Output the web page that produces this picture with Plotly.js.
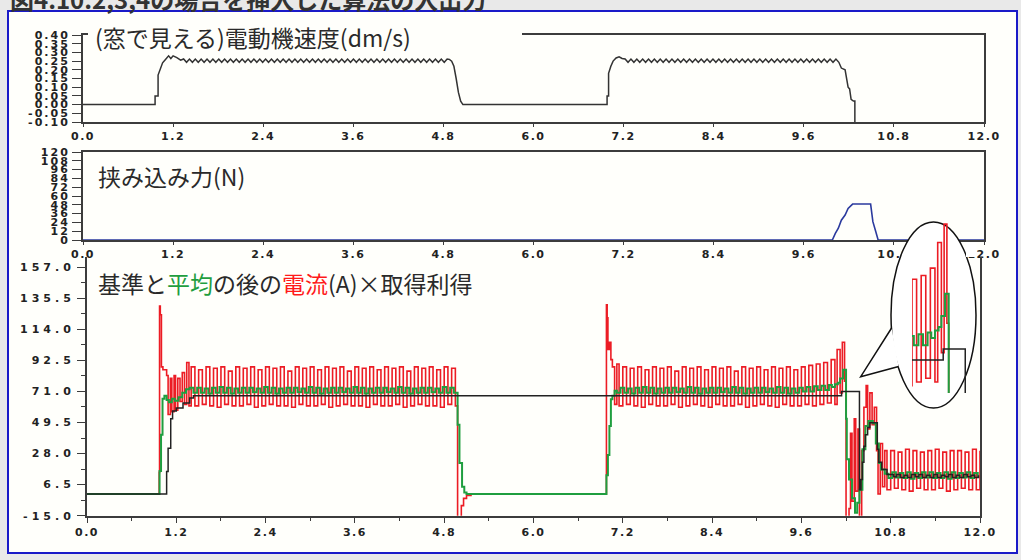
<!DOCTYPE html>
<html><head><meta charset="utf-8">
<script src="https://cdn.plot.ly/plotly-3.0.1.min.js"></script>
<style>
html,body{margin:0;padding:0;background:#e9e9e9;}
#chart{width:1021px;height:560px;}
.xtick text,.x2tick text,.x3tick text{letter-spacing:1.5px}
.ytick text,.y2tick text{letter-spacing:2px}
.y3tick text{letter-spacing:4px}
</style></head><body><div id="chart"></div>
<script>
// ---------------- DATA ----------------
const xTickVals = [0,1.2,2.4,3.6,4.8,6.0,7.2,8.4,9.6,10.8,12.0];
const xTickText = ['0.0','1.2','2.4','3.6','4.8','6.0','7.2','8.4','9.6','10.8','12.0'];
const speedTickVals = [-0.10,-0.05,0,0.05,0.10,0.15,0.20,0.25,0.30,0.35,0.40];
const speedTickText = ['-0.10','-0.05','0.00','0.05','0.10','0.15','0.20','0.25','0.30','0.35','0.40'];
const forceTickVals = [0,12,24,36,48,60,72,84,96,108,120];
const forceTickText = ['0','12','24','36','48','60','72','84','96','108','120'];
const currTickVals = [-15,6.5,28,49.5,71,92.5,114,135.5,157];
const currTickText = ['-15.0','6.5','28.0','49.5','71.0','92.5','114.0','135.5','157.0'];

// motor speed (dm/s)
const speedT1 = [0,0.96,0.96,1.00,1.00,1.03,1.06,1.09,1.14,1.17,1.20,1.25,1.30];
const speedV1 = [0,0,0.05,0.05,0.17,0.21,0.24,0.255,0.28,0.265,0.28,0.27,0.255];
const speedZig1Start = 1.34, speedZigStep = 0.039;
const speedZig1 = [
0.262,0.243,0.262,0.243,0.262,0.243,0.262,0.243,0.262,0.243,
0.262,0.243,0.262,0.243,0.262,0.243,0.262,0.243,0.262,0.243,
0.262,0.243,0.262,0.243,0.262,0.243,0.262,0.243,0.262,0.243,
0.262,0.243,0.262,0.243,0.262,0.243,0.262,0.243,0.262,0.243,
0.262,0.243,0.262,0.243,0.262,0.243,0.262,0.243,0.262,0.243,
0.262,0.243,0.262,0.243,0.262,0.243,0.262,0.243,0.262,0.243,
0.262,0.243,0.262,0.243,0.262,0.243,0.262,0.243,0.262,0.243,
0.262,0.243,0.262,0.243,0.262,0.243,0.262,0.243,0.262,0.243,
0.262,0.243,0.262,0.243,0.262,0.243,0.262,0.243,0.262,0.243,
0.262];
const speedT2 = [4.88,4.91,4.94,4.97,5.00,5.03,5.06,6.98,6.98,7.00,7.00,7.03,7.06,7.10,7.14,7.18];
const speedV2 = [0.26,0.25,0.22,0.15,0.07,0.02,0,0,0.05,0.05,0.18,0.22,0.25,0.268,0.275,0.265];
const speedZig2Start = 7.22;
const speedZig2 = [
0.262,0.243,0.262,0.243,0.262,0.243,0.262,0.243,0.262,0.243,
0.262,0.243,0.262,0.243,0.262,0.243,0.262,0.243,0.262,0.243,
0.262,0.243,0.262,0.243,0.262,0.243,0.262,0.243,0.262,0.243,
0.262,0.243,0.262,0.243,0.262,0.243,0.262,0.243,0.262,0.243,
0.262,0.243,0.262,0.243,0.262,0.243,0.262,0.243,0.262,0.243,
0.262,0.243,0.262,0.243,0.262,0.243,0.262,0.243,0.262,0.243,
0.262,0.243,0.262,0.243,0.262,0.243,0.262,0.243,0.262,0.243,
0.262,0.243,0.262,0.243];
const speedT3 = [10.10,10.15,10.17,10.19,10.21,10.23,10.26,10.28,10.28];
const speedV3 = [0.21,0.20,0.16,0.10,0.09,0.03,0.02,0.02,-0.15];

// pinch force (N)
const forceT = [0,9.98,10.02,10.06,10.10,10.15,10.19,10.25,10.49,10.50,10.52,10.56,10.59,12.0];
const forceV = [0,0,9,16,27,34,43,49,49,39,25,11,0,0];

// current (A) x gain: red = current, green = average, black = reference
const oscStep = 0.05;
const redT1 = [0,0.97,0.975,0.985,1.00,1.02,1.07,1.09,1.12,1.14,1.17,1.19,1.22,1.25,1.28,1.31,1.34,1.37];
const redV1 = [0,15,130,124,88,86,82,55,80,57,82,58,80,64,84,62,91,61];
const redOsc1Start = 1.40;
const redOsc1 = [
88,61,86,62,88,61,87,60,88,62,85,61,88,61,87,62,88,60,86,61,
88,62,87,61,88,61,85,60,88,62,87,61,88,61,86,62,88,60,87,61,
88,62,85,61,88,61,87,60,88,62,86,61,88,61,87,62,88,60,85,61,
88,62,87,61,88,61,86,60,88,62,87,61];
const redT2 = [4.98,5.03,5.06,5.10,5.16,6.98,6.99,7.00,7.02,7.04,7.06,7.09,7.12];
const redV2 = [-30,-8,-3,-1,0,131,122,100,105,93,88,62,90];
const redOsc2Start = 7.15;
const redOsc2 = [
61,88,62,87,61,88,60,86,62,88,61,87,61,88,62,85,60,88,61,87,
62,88,61,86,60,88,62,87,61,88,61,85,62,88,60,87,61,88,62,86,
61,88,60,87,62,88,61,86,61,88,62,89,61,90,62,91,63,93];
const redT3 = [10.05,10.08,10.12,10.15,10.18,10.20,10.24,10.26,10.28,10.31,10.33,10.36,10.38,10.41,10.44,10.47,10.49,10.52,10.55,10.58,10.61,10.63,10.66,10.69,10.72];
const redV3 = [62,100,70,105,78,-30,-10,42,-5,52,2,45,-20,30,60,75,45,70,48,60,30,0,35,5,30];
const redOsc3Start = 10.75;
const redOsc3 = [3,30,4,29,3,31,2,30,4,29,3,30,3,31,4,29,2,30,3,30,4,29,3,31,3,30];

const greenT1 = [0,0.975,0.995,1.015,1.04,1.07,1.10,1.14,1.18,1.23,1.28,1.33,1.38];
const greenV1 = [0,16,41,66,68,65,63.5,66,64.5,67,70,72.5,73.5];
const greenOsc1Start = 1.43;
const greenOsc1 = [
70,73.5,70,73,69.5,73.5,70,74,70,73.5,
69.5,73,70,73.5,70,73.5,70.5,73,70,74,
70,73.5,69.5,73,70,73.5,70,73.5,70.5,73,
70,74,70,73.5,69.5,73,70,73.5,70,73.5,
70.5,73,70,74,70,73.5,69.5,73,70,73.5,
70,73.5,70.5,73,70,74,70,73.5,69.5,73,
70,73.5,70,73.5,70.5,73,70,74,70,73.5,
70];
const greenT2 = [4.98,5.005,5.04,5.07,5.10,6.98,7.00,7.02,7.04,7.06,7.09];
const greenV2 = [48,21.5,5,1,0,13,27,47,65.6,68,71.5];
const greenOsc2Start = 7.12;
const greenOsc2 = [
70,73.5,70,73,69.5,73.5,70,74,70,73.5,
69.5,73,70,73.5,70,73.5,70.5,73,70,74,
70,73.5,69.5,73,70,73.5,70,73.5,70.5,73,
70,74,70,73.5,69.5,73,70,73.5,70,73.5,
70.5,73,70,74,70,73.5,69.5,73,70,73.5,
71,74,71,74.5,72,75,72,75.5];
const greenT3 = [10.01,10.05,10.09,10.12,10.16,10.20,10.21,10.24,10.28,10.32,10.35,10.38,10.42,10.46,10.50,10.56,10.60,10.64,10.67,10.72];
const greenV3 = [74,76,77,80,86,52,24,10,-3,-13,-6,3,31,47,50.5,49,35,21.5,17,14];
const greenOsc3Start = 10.77;
const greenOsc3 = [11,15,11.5,14.5,11,15,10.5,14.5,11,15,11.5,15,11,14.5,11,15,10.5,15,11,14.5,11.5,15,11,14.5,11];

const blackT = [0,1.07,1.09,1.125,1.15,1.20,1.29,1.38,1.43,10.14,10.38,10.40,10.42,10.44,10.46,10.49,10.52,10.62,10.64,10.68,10.75,10.84];
const blackV = [0,15.6,31.6,52,57.4,59.6,63,66.5,68,71,3,10,22,33,41,46,49.4,31,22,17,13.5,12];
const blackOscStart = 10.88;
const blackOsc = [13.5,11.5,13,11.5,13.5,12,13.5,11.5,13,11.5,13.5,11.5,13,12,13.5,11.5,13,11.5,13.5,12,13,11.5,13];

// ---------------- BUILD ----------------
function joinSeries(segs){
  const x=[],y=[];
  segs.forEach(s=>{
    s.v.forEach((val,i)=>{
      x.push(s.t ? s.t[i] : +(s.x0 + i*s.dx).toFixed(4));
      y.push(val);
    });
  });
  return {x,y};
}
const speed = joinSeries([
  {t:speedT1,v:speedV1},{x0:speedZig1Start,dx:speedZigStep,v:speedZig1},
  {t:speedT2,v:speedV2},{x0:speedZig2Start,dx:speedZigStep,v:speedZig2},
  {t:speedT3,v:speedV3}]);
const red = joinSeries([
  {t:redT1,v:redV1},{x0:redOsc1Start,dx:oscStep,v:redOsc1},
  {t:redT2,v:redV2},{x0:redOsc2Start,dx:oscStep,v:redOsc2},
  {t:redT3,v:redV3},{x0:redOsc3Start,dx:oscStep,v:redOsc3}]);
const green = joinSeries([
  {t:greenT1,v:greenV1},{x0:greenOsc1Start,dx:oscStep,v:greenOsc1},
  {t:greenT2,v:greenV2},{x0:greenOsc2Start,dx:oscStep,v:greenOsc2},
  {t:greenT3,v:greenV3},{x0:greenOsc3Start,dx:oscStep,v:greenOsc3}]);
const black = joinSeries([{t:blackT,v:blackV},{x0:blackOscStart,dx:oscStep,v:blackOsc}]);

const RED='#ec1c24', GREEN='#1f9e3f', BLK='#222222';
const W=1021,H=560;
const px=(a,b)=>[a/W,b/W];
const py=(top,bot)=>[1-bot/H,1-top/H];

function cur(s,color,width,ax){
  return {type:'scatter',mode:'lines',x:s.x,y:s.y,xaxis:'x'+ax,yaxis:'y'+ax,
    line:{color:color,width:width,shape:'hv'},hoverinfo:'skip'};
}
const traces = [
  {type:'scatter',mode:'lines',x:speed.x,y:speed.y,xaxis:'x',yaxis:'y',line:{color:'#333',width:1.5},hoverinfo:'skip'},
  {type:'scatter',mode:'lines',x:forceT,y:forceV,xaxis:'x2',yaxis:'y2',line:{color:'#2b3a9e',width:1.6},hoverinfo:'skip'},
  cur(red,RED,1.6,3), cur(green,GREEN,2,3), cur(black,BLK,1.5,3),
  {type:'scatter',mode:'lines',x:[],y:[],xaxis:'x4',yaxis:'y4',hoverinfo:'skip'},
  cur(red,RED,1.6,5), cur(green,GREEN,2,5), cur(black,BLK,1.5,5)
];

const tickFont={family:'DejaVu Sans',size:11,color:'#222',weight:'bold'};
const LC='#3c3c3c';
function xAx(dom,anchor,extra){
  return Object.assign({domain:dom,range:[0,12],tickmode:'array',tickvals:xTickVals,ticktext:xTickText,
    showline:true,linecolor:LC,linewidth:2,ticks:'outside',ticklen:3,tickcolor:LC,
    showgrid:false,zeroline:false,anchor:anchor,tickfont:tickFont,fixedrange:true},extra||{});
}
function yAx(dom,anchor,range,vals,text,extra){
  return Object.assign({domain:dom,range:range,tickmode:'array',tickvals:vals,ticktext:text,
    showline:true,linecolor:LC,linewidth:2,ticks:'outside',ticklen:9,tickcolor:LC,
    showgrid:false,zeroline:false,anchor:anchor,tickfont:tickFont,fixedrange:true},extra||{});
}
const BG='#fffffb';
const titleFont={family:'Noto Sans CJK JP',size:23,color:'#2a2a2a'};
const layout={
  width:W,height:H,margin:{l:0,r:0,t:0,b:0},showlegend:false,hovermode:false,
  paper_bgcolor:'#e9e9e9',plot_bgcolor:'rgba(0,0,0,0)',
  xaxis:xAx(px(83,984),'y',{mirror:true}),
  yaxis:yAx(py(35,122),'x',[-0.1,0.4],speedTickVals,speedTickText,{mirror:true}),
  xaxis2:xAx(px(83,984),'y2',{mirror:true}),
  yaxis2:yAx(py(152,240),'x2',[0,120],forceTickVals,forceTickText,{mirror:true}),
  xaxis3:xAx(px(87,980),'y3',{ticklen:5,minor:{tick0:0,dtick:0.6,ticklen:3,ticks:'outside',tickcolor:LC}}),
  yaxis3:yAx(py(257,515.7),'x3',[-15,164],currTickVals,currTickText,
    {mirror:true,ticklen:8,minor:{tick0:-15,dtick:10.75,ticklen:4,ticks:'outside',tickcolor:LC}}),
  xaxis4:{domain:px(856,980),range:[856,980],visible:false,anchor:'y4',fixedrange:true},
  yaxis4:{domain:py(218,412),range:[412,218],visible:false,anchor:'x4',fixedrange:true},
  xaxis5:{domain:px(912,968),range:[9.80,10.41],visible:false,anchor:'y5',fixedrange:true},
  yaxis5:{domain:py(223,393),range:[59,105.3],visible:false,anchor:'x5',fixedrange:true},
  shapes:[
    {type:'rect',xref:'paper',yref:'paper',x0:8/W,x1:1017/W,y0:1-553/H,y1:1-11/H,
      fillcolor:BG,line:{color:'#1a1ac8',width:2},layer:'below'},
    {type:'rect',xref:'paper',yref:'paper',x0:88/W,x1:522/W,y0:1-39/H,y1:1-31/H,
      fillcolor:BG,line:{width:0},layer:'above'},
    {type:'circle',xref:'x4',yref:'y4',x0:891,x1:976,y0:222,y1:408,
      fillcolor:'#ffffff',line:{color:'#111',width:1.5},layer:'below'},
    {type:'path',xref:'x4',yref:'y4',path:'M 891.6 328 L 860.7 376.7 L 898.6 366.5',
      fillcolor:'#ffffff',line:{color:'#111',width:1.5},layer:'below'},
    {type:'rect',xref:'x4',yref:'y4',x0:966,x1:976.5,y0:242.5,y1:257,
      fillcolor:'#ffffff',line:{width:0},layer:'below'}
  ],
  annotations:[
    {xref:'paper',yref:'paper',x:8/W,y:1+2/H,xanchor:'left',yanchor:'middle',showarrow:false,
      text:'図4.10.2,3,4の場合を挿入した算法の入出力',font:{family:'Noto Sans CJK JP',size:24,color:'#333',weight:'bold'}},
    {xref:'paper',yref:'paper',x:93/W,y:1-37/H,xanchor:'left',yanchor:'middle',showarrow:false,
      text:'(窓で見える)電動機速度(dm/s)',font:titleFont},
    {xref:'paper',yref:'paper',x:96/W,y:1-176/H,xanchor:'left',yanchor:'middle',showarrow:false,
      text:'挟み込み力(N)',font:titleFont},
    {xref:'paper',yref:'paper',x:96/W,y:1-283/H,xanchor:'left',yanchor:'middle',showarrow:false,
      text:'基準と<span style="color:#1f9e3f">平均</span>の後の<span style="color:#ff1a1a">電流</span>(A)×取得利得',font:titleFont}
  ]
};
Plotly.newPlot('chart',traces,layout,{staticPlot:true,displayModeBar:false});
</script></body></html>
